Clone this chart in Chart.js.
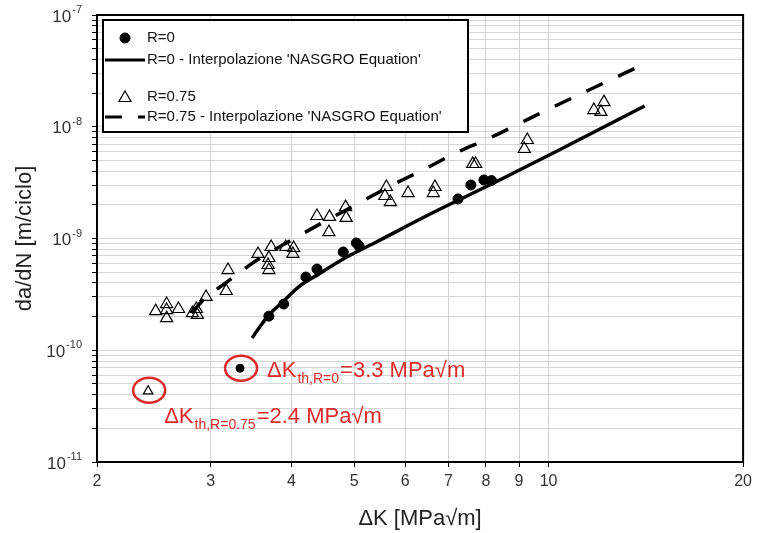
<!DOCTYPE html>
<html><head><meta charset="utf-8">
<script src="https://cdn.jsdelivr.net/npm/chart.js@4/dist/chart.umd.min.js"></script>
<style>html,body{margin:0;padding:0;background:#fff;}canvas{display:block}</style>
</head><body>
<canvas id="c" width="757" height="533"></canvas>
<script>
// ---- data (ΔK in MPa√m, da/dN in m/ciclo) ----
const r0K    = [3.69, 3.89, 4.21, 4.38, 4.81, 5.04, 5.09, 7.24, 7.58, 7.94, 8.16];
const r0Rate = [2.02e-10, 2.59e-10, 4.52e-10, 5.33e-10, 7.57e-10, 9.12e-10, 8.57e-10, 2.26e-9, 3.01e-9, 3.34e-9, 3.30e-9];

const r075K    = [2.465, 2.563, 2.563, 2.563, 2.674, 2.81, 2.86, 2.85, 2.95, 3.17, 3.19, 3.55, 3.72, 3.69, 3.68, 3.69, 3.92, 4.03, 4.02, 4.38, 4.58, 4.57, 4.85, 4.86, 5.61, 5.58, 5.69, 6.06, 6.67, 6.63, 7.63, 7.71, 9.27, 9.17, 12.18, 11.75, 12.05];
const r075Rate = [2.24e-10, 2.59e-10, 1.94e-10, 2.29e-10, 2.34e-10, 2.15e-10, 2.07e-10, 2.34e-10, 3.0e-10, 3.39e-10, 5.22e-10, 7.27e-10, 8.39e-10, 6.69e-10, 5.79e-10, 5.22e-10, 8.39e-10, 8.22e-10, 7.27e-10, 1.59e-9, 1.56e-9, 1.14e-9, 1.91e-9, 1.53e-9, 2.89e-9, 2.40e-9, 2.12e-9, 2.55e-9, 2.89e-9, 2.55e-9, 4.64e-9, 4.64e-9, 7.61e-9, 6.32e-9, 1.66e-8, 1.41e-8, 1.36e-8];

const thR0K = [3.33],  thR0Rate = [6.9e-11];
const thR075K = [2.40], thR075Rate = [4.3e-11];

const nasgroR0K    = [3.476, 3.59, 3.69, 3.89, 4.10, 4.41, 4.81, 5.45, 6.51, 8.34, 10.31, 14.08];
const nasgroR0Rate = [1.287e-10, 1.683e-10, 2.067e-10, 2.759e-10, 3.68e-10, 4.81e-10, 6.556e-10, 9.50e-10, 1.623e-9, 3.27e-9, 6.07e-9, 1.533e-8];

const nasgroR075K    = [2.80, 2.953, 3.148, 3.538, 3.976, 4.486, 5.024, 5.647, 6.39, 7.18, 8.11, 9.11, 10.24, 11.55, 13.74];
const nasgroR075Rate = [2.154e-10, 2.996e-10, 3.915e-10, 6.42e-10, 9.50e-10, 1.405e-9, 1.994e-9, 2.89e-9, 4.10e-9, 5.82e-9, 7.93e-9, 1.103e-8, 1.533e-8, 2.133e-8, 3.42e-8];

const xTickValues = [2, 3, 4, 5, 6, 7, 8, 9, 10, 20];
const yDecadeExps = [-11, -10, -9, -8, -7];

const legendLabels = ["R=0", "R=0 - Interpolazione 'NASGRO Equation'", "R=0.75", "R=0.75 - Interpolazione 'NASGRO Equation'"];
const thLabelR0 = ["\u0394K", "th,R=0", "=3.3 MPa\u221Am"];
const thLabelR075 = ["\u0394K", "th,R=0.75", "=2.4 MPa\u221Am"];
const xTitle = "\u0394K [MPa\u221Am]";
const yTitle = "da/dN [m/ciclo]";

// ---- helpers ----
const FONT = '"Liberation Sans", Arial, sans-serif';
const RED = '#dc2a2a';
const zip = (xs, ys) => xs.map((v, i) => ({x: v, y: ys[i]}));
const yTickValues = [];
for (let e = -11; e <= -8; e++) for (let m = 1; m <= 9; m++) yTickValues.push(parseFloat(m + 'e' + e));
yTickValues.push(1e-7);

Chart.defaults.font.family = FONT;

const decor = {
  id: 'decor',
  afterDatasetsDraw(chart) {
    const {ctx, scales: {x, y}} = chart;
    ctx.save();
    ctx.strokeStyle = RED; ctx.lineWidth = 2.5;
    const p0 = {x: x.getPixelForValue(thR0K[0]), y: y.getPixelForValue(thR0Rate[0])};
    const p1 = {x: x.getPixelForValue(thR075K[0]), y: y.getPixelForValue(thR075Rate[0])};
    ctx.beginPath(); ctx.ellipse(p0.x + 1, p0.y, 16, 12.5, 0, 0, Math.PI * 2); ctx.stroke();
    ctx.beginPath(); ctx.ellipse(p1.x + 1, p1.y - 1, 16, 12.5, 0, 0, Math.PI * 2); ctx.stroke();
    const drawTh = (parts, sx, by) => {
      ctx.fillStyle = RED; ctx.textAlign = 'left'; ctx.textBaseline = 'alphabetic';
      ctx.font = '22px ' + FONT;
      ctx.fillText(parts[0], sx, by);
      let cx = sx + ctx.measureText(parts[0]).width + 1;
      ctx.font = '14px ' + FONT;
      ctx.fillText(parts[1], cx, by + 6);
      cx += ctx.measureText(parts[1]).width + 1;
      ctx.font = '22px ' + FONT;
      ctx.fillText(parts[2], cx, by);
    };
    drawTh(thLabelR0, p0.x + 27, p0.y + 9);
    drawTh(thLabelR075, p1.x + 16, p1.y + 32);
    ctx.restore();
  },
  afterDraw(chart) {
    const {ctx, chartArea: a, scales: {y}} = chart;
    ctx.save();
    ctx.strokeStyle = '#000'; ctx.lineWidth = 2;
    ctx.strokeRect(a.left, a.top, a.right - a.left, a.bottom - a.top);
    ctx.fillStyle = '#333'; ctx.textAlign = 'right'; ctx.textBaseline = 'middle';
    yDecadeExps.forEach(e => {
      const py = y.getPixelForValue(Math.pow(10, e));
      const sup = String(e);
      const supRight = a.left - 15;
      ctx.font = '11px ' + FONT;
      ctx.fillText(sup, supRight, py - 5);
      const w = ctx.measureText(sup).width;
      ctx.font = '17px ' + FONT;
      ctx.fillText('10', supRight - w - 1, py + 2);
    });
    ctx.fillStyle = '#222'; ctx.font = '22px ' + FONT;
    ctx.textAlign = 'center'; ctx.textBaseline = 'middle';
    ctx.fillText(xTitle, (a.left + a.right) / 2, 519);
    ctx.save();
    ctx.translate(25, (a.top + a.bottom) / 2);
    ctx.rotate(-Math.PI / 2);
    ctx.fillText(yTitle, 0, 0);
    ctx.restore();
    const lx = a.left + 6, ly = a.top + 5, lw = 365, lh = 112;
    ctx.fillStyle = '#fff'; ctx.fillRect(lx, ly, lw, lh);
    ctx.strokeStyle = '#000'; ctx.lineWidth = 2; ctx.strokeRect(lx, ly, lw, lh);
    const mx = lx + 22, tx = lx + 44;
    const rows = [ly + 18, ly + 40, ly + 77, ly + 97];
    ctx.fillStyle = '#000'; ctx.strokeStyle = '#000';
    ctx.lineWidth = 1;
    Chart.helpers.drawPoint(ctx, {pointStyle: 'circle', radius: 5, borderWidth: 1}, mx, rows[0]);
    ctx.fillStyle = 'rgba(0,0,0,0)'; ctx.lineWidth = 1.2;
    Chart.helpers.drawPoint(ctx, {pointStyle: 'triangle', radius: 7, borderWidth: 1.2}, mx, rows[2] + 1);
    ctx.lineWidth = 3;
    ctx.beginPath(); ctx.moveTo(lx + 2, rows[1]); ctx.lineTo(lx + 42, rows[1]); ctx.stroke();
    ctx.setLineDash([17, 16]);
    ctx.beginPath(); ctx.moveTo(lx + 2, rows[3]); ctx.lineTo(lx + 42, rows[3]); ctx.stroke();
    ctx.setLineDash([]);
    ctx.fillStyle = '#111'; ctx.font = '15px ' + FONT; ctx.textAlign = 'left'; ctx.textBaseline = 'middle';
    legendLabels.forEach((t, i) => ctx.fillText(t, tx, rows[i]));
    ctx.restore();
  }
};

new Chart(document.getElementById('c'), {
  type: 'scatter',
  data: {
    datasets: [
      {label: 'thR0', data: zip(thR0K, thR0Rate), pointStyle: 'circle', pointRadius: 4, backgroundColor: '#000', borderColor: '#000', borderWidth: 1},
      {label: 'thR075', data: zip(thR075K, thR075Rate), pointStyle: 'triangle', pointRadius: 5.5, backgroundColor: 'rgba(0,0,0,0)', borderColor: '#000', borderWidth: 1.2},
      {label: legendLabels[0], data: zip(r0K, r0Rate), pointStyle: 'circle', pointRadius: 5, backgroundColor: '#000', borderColor: '#000', borderWidth: 1},
      {label: legendLabels[2], data: zip(r075K, r075Rate), pointStyle: 'triangle', pointRadius: 7, backgroundColor: 'rgba(0,0,0,0)', borderColor: '#000', borderWidth: 1.2},
      {label: legendLabels[1], data: zip(nasgroR0K, nasgroR0Rate), showLine: true, pointRadius: 0, borderColor: '#000', borderWidth: 3.5, cubicInterpolationMode: 'monotone'},
      {label: legendLabels[3], data: zip(nasgroR075K, nasgroR075Rate), showLine: true, pointRadius: 0, borderColor: '#000', borderWidth: 3.5, borderDash: [18, 17], cubicInterpolationMode: 'monotone'}
    ]
  },
  options: {
    responsive: false,
    animation: false,
    devicePixelRatio: 1,
    layout: {padding: {top: 15, right: 10, left: 0, bottom: 0}},
    plugins: {legend: {display: false}, tooltip: {enabled: false}},
    scales: {
      x: {
        type: 'logarithmic', min: 2, max: 20,
        afterBuildTicks: s => { s.ticks = xTickValues.map(v => ({value: v})); },
        afterFit: s => { s.height = 71; },
        ticks: {font: {size: 16}, color: '#333', padding: 5, autoSkip: false, maxRotation: 0, callback: v => String(v)},
        grid: {color: c => (c.tick && (c.tick.value === 2 || c.tick.value === 20)) ? 'rgba(0,0,0,0)' : '#d2d2d2', tickColor: '#000', tickLength: 5, lineWidth: 1},
        border: {color: '#000', width: 2}
      },
      y: {
        type: 'logarithmic', min: 1e-11, max: 1e-7,
        afterBuildTicks: s => { s.ticks = yTickValues.map(v => ({value: v})); },
        afterFit: s => { s.width = 97; },
        ticks: {display: false},
        grid: {color: '#d6d6d6', tickColor: '#000', tickLength: 5, lineWidth: 1},
        border: {color: '#000', width: 2}
      }
    }
  },
  plugins: [decor]
});
</script>
</body></html>
